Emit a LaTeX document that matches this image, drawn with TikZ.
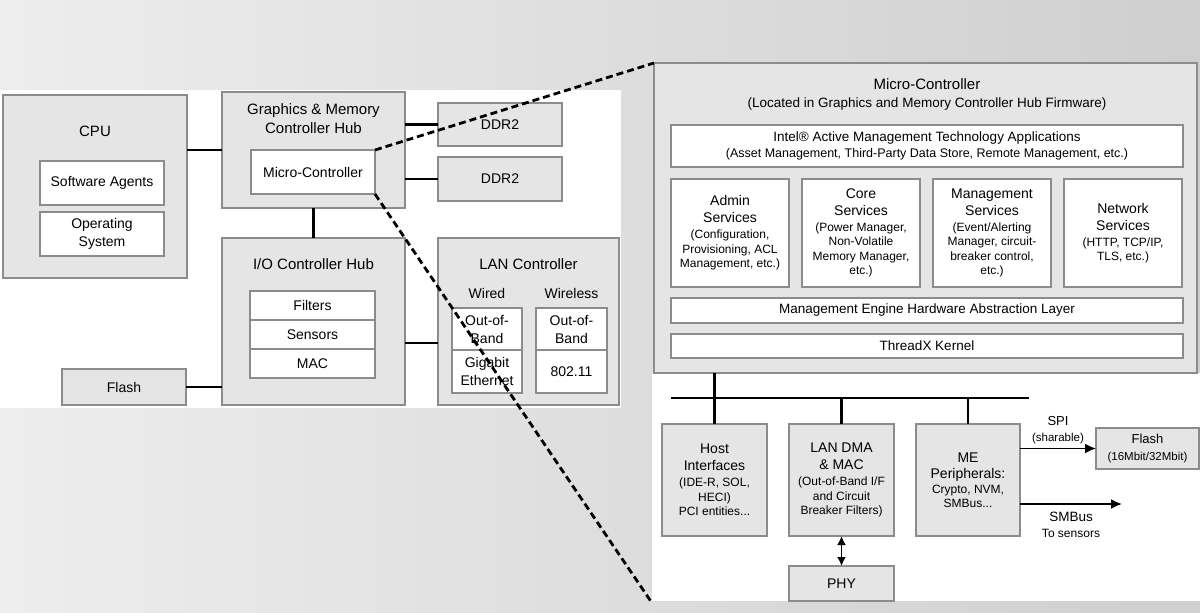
\documentclass[tikz,border=0pt]{standalone}
\usepackage{fontspec}
\setmainfont{Liberation Sans}
\usetikzlibrary{arrows,arrows.meta,positioning,calc}
\newcommand{\hdfont}{\fontsize{14}{17}\selectfont}
\tikzstyle{unit}=[draw=black!45, fill=black!10, line width=1.2pt,
                  inner sep=0pt, outer sep=0pt]
\tikzstyle{part}=[draw=black!45, fill=white, line width=1.2pt,
                  inner sep=0pt, outer sep=0pt, align=center,
                  font=\fontsize{14}{18}\selectfont]
\tikzstyle{title}=[align=center, font=\fontsize{15}{19}\selectfont]
\tikzstyle{service}=[part, minimum width=118pt, minimum height=108pt,
                     font=\fontsize{12}{14.5}\selectfont]
\tikzstyle{block}=[unit, align=center, minimum width=105pt,
                   minimum height=112pt, font=\fontsize{12}{14.5}\selectfont]
\tikzstyle{wire}=[line width=2.6pt]
\tikzstyle{zoomline}=[line width=2.8pt, dash pattern=on 7pt off 4pt]
\tikzstyle{signal}=[line width=1.8pt, -{Latex[length=11pt,width=10pt]}]

\begin{document}
\begin{tikzpicture}[x=1pt,y=-1pt]
    \useasboundingbox (0,0) rectangle (1200,613);
    \shade[left color=black!7, right color=black!19] (0,0) rectangle (1200,613);
    \fill[white] (0,90) rectangle (621,408);
    \fill[white] (652,373) rectangle (1200,601);

    % platform overview
    \node[unit, minimum width=184pt, minimum height=183pt] (cpu) at (95,186.5) {};
    \node[title] (cputitle) at (95,131) {CPU};
    \node[part, minimum width=124pt, minimum height=44pt] (agents) at (102,183) {Software Agents};
    \node[part, minimum width=124pt, minimum height=44pt] (os) at (102,234) {Operating\\System};
    \node[unit, minimum width=183pt, minimum height=116pt] (gmch) at (313.5,150) {};
    \node[title] (gmchtitle) at (313.5,118.5) {Graphics \& Memory\\Controller Hub};
    \node[part, minimum width=124pt, minimum height=44pt] (mc) at (313,172) {Micro-Controller};
    \node[unit, minimum width=124pt, minimum height=43pt, font=\fontsize{14}{18}\selectfont] (ddra) at (500,124.5) {DDR2};
    \node[unit, minimum width=124pt, minimum height=44pt, font=\fontsize{14}{18}\selectfont] (ddrb) at (500,179) {DDR2};
    \node[unit, minimum width=183pt, minimum height=167pt] (ioch) at (313.5,321.5) {};
    \node[title] (iochtitle) at (313.5,264) {I/O Controller Hub};
    \node[part, minimum width=125pt, minimum height=29pt] (filters) at (312.5,305.5) {Filters};
    \node[part, minimum width=125pt, minimum height=29pt, below=0pt of filters] (sensors) {Sensors};
    \node[part, minimum width=125pt, minimum height=29pt, below=0pt of sensors] (mac) {MAC};
    \node[unit, minimum width=181pt, minimum height=167pt] (lan) at (528.5,321.5) {};
    \node[title] (lantitle) at (528.5,264) {LAN Controller};
    \node[font=\fontsize{14}{18}\selectfont] (wired) at (487,293) {Wired};
    \node[font=\fontsize{14}{18}\selectfont] (wireless) at (571.5,293) {Wireless};
    \node[part, minimum width=70pt, minimum height=42pt] (wiredoob) at (487,329) {Out-of-\\Band};
    \node[part, minimum width=70pt, minimum height=43pt, below=0pt of wiredoob] (gige) {Gigabit\\Ethernet};
    \node[part, minimum width=71pt, minimum height=42pt] (wirelessoob) at (571.5,329) {Out-of-\\Band};
    \node[part, minimum width=71pt, minimum height=43pt, below=0pt of wirelessoob] (wifi) {802.11};
    \node[unit, minimum width=124pt, minimum height=36pt, font=\fontsize{14}{18}\selectfont] (flash) at (124,387) {Flash};

    \draw[wire] (cpu.east |- gmch.west) -- (gmch.west);
    \draw[wire] (gmch.east |- ddra.west) -- (ddra.west);
    \draw[wire] (gmch.east |- ddrb.west) -- (ddrb.west);
    \draw[wire] (gmch.south) -- (ioch.north);
    \draw[wire] ([yshift=-21.5pt]ioch.east) -- ([yshift=-21.5pt]lan.west);
    \draw[wire] (flash.east) -- (flash.east -| ioch.west);

    % micro-controller detail
    \node[unit, minimum width=543pt, minimum height=310pt] (mcp) at (925.5,218) {};
    \node[align=center, font=\fontsize{13.5}{18}\selectfont] (mctitle) at (927,94)
        {\fontsize{15}{18}\selectfont Micro-Controller\\(Located in Graphics and Memory Controller Hub Firmware)};
    \node[part, minimum width=512pt, minimum height=42pt, font=\fontsize{12.5}{16}\selectfont] (amt) at (927,146)
        {\fontsize{13.5}{16}\selectfont Intel® Active Management Technology Applications\\(Asset Management, Third-Party Data Store, Remote Management, etc.)};
    \node[service] (admin) at (730,233)
        {\hdfont Admin\\[2.5pt]\hdfont Services\\[1.5pt](Configuration,\\Provisioning, ACL\\Management, etc.)};
    \node[service, right=13pt of admin] (core)
        {\hdfont Core\\[2.5pt]\hdfont Services\\[1.5pt](Power Manager,\\Non-Volatile\\Memory Manager,\\etc.)};
    \node[service, right=13pt of core] (mgmt)
        {\hdfont Management\\[2.5pt]\hdfont Services\\[1.5pt](Event/Alerting\\Manager, circuit-\\breaker control,\\etc.)};
    \node[service, right=13pt of mgmt] (network)
        {\hdfont Network\\[2.5pt]\hdfont Services\\[1.5pt](HTTP, TCP/IP,\\TLS, etc.)};
    \node[part, minimum width=512pt, minimum height=25pt, font=\fontsize{13.5}{16}\selectfont] (mehal) at (927,310.5)
        {Management Engine Hardware Abstraction Layer};
    \node[part, minimum width=512pt, minimum height=24pt, font=\fontsize{13.5}{16}\selectfont] (threadx) at (927,346)
        {ThreadX Kernel};

    \node[block] (host) at (714.5,480)
        {\hdfont Host\\[2.5pt]\hdfont Interfaces\\[1.5pt](IDE-R, SOL,\\HECI)\\PCI entities...};
    \node[block, right=22pt of host] (landma)
        {\hdfont LAN DMA\\[2.5pt]\hdfont \& MAC\\[1.5pt](Out-of-Band I/F\\and Circuit\\Breaker Filters)};
    \node[block, minimum width=104pt, right=22pt of landma] (meper)
        {\hdfont ME\\[1.5pt]\hdfont Peripherals:\\[0.5pt]Crypto, NVM,\\SMBus...};
    \node[block, minimum height=35pt, below=30pt of landma, font=\fontsize{14}{18}\selectfont] (phy) {PHY};
    \node[unit, align=center, minimum width=103pt, minimum height=41pt, font=\fontsize{11.5}{17}\selectfont] (flashspi) at (1147.5,448.5)
        {\fontsize{13}{17}\selectfont Flash\\(16Mbit/32Mbit)};
    \coordinate (busl) at (671,398);
    \coordinate (busr) at (1029,398);
    \coordinate (smbend) at (1122,504);

    \draw[wire] (busl) -- (busr);
    \draw[wire] (mcp.south -| host.north) -- (host.north);
    \draw[wire] (landma.north |- busl) -- (landma.north);
    \draw[wire] (meper.north |- busl) -- (meper.north);
    \draw[signal, {Latex[length=9pt,width=9pt]}-{Latex[length=9pt,width=9pt]}] (landma) -- (phy);
    \draw[signal] (meper.east |- flashspi.west) -- node[above, align=center, font=\fontsize{11.5}{16}\selectfont] (spilabel)
        {\fontsize{13}{16}\selectfont SPI\\(sharable)} (flashspi.west);
    \draw[signal] (meper.east |- smbend) -- node[below=4pt, align=center, font=\fontsize{12}{16}\selectfont] (smblabel)
        {\fontsize{13.5}{16}\selectfont SMBus\\To sensors} (smbend);

    % zoom lines
    \coordinate (zoombot) at (652,603);
    \draw[zoomline] (mc.north east) -- (mcp.north west);
    \draw[zoomline] (mc.south east) -- (zoombot);
\end{tikzpicture}
\end{document}
